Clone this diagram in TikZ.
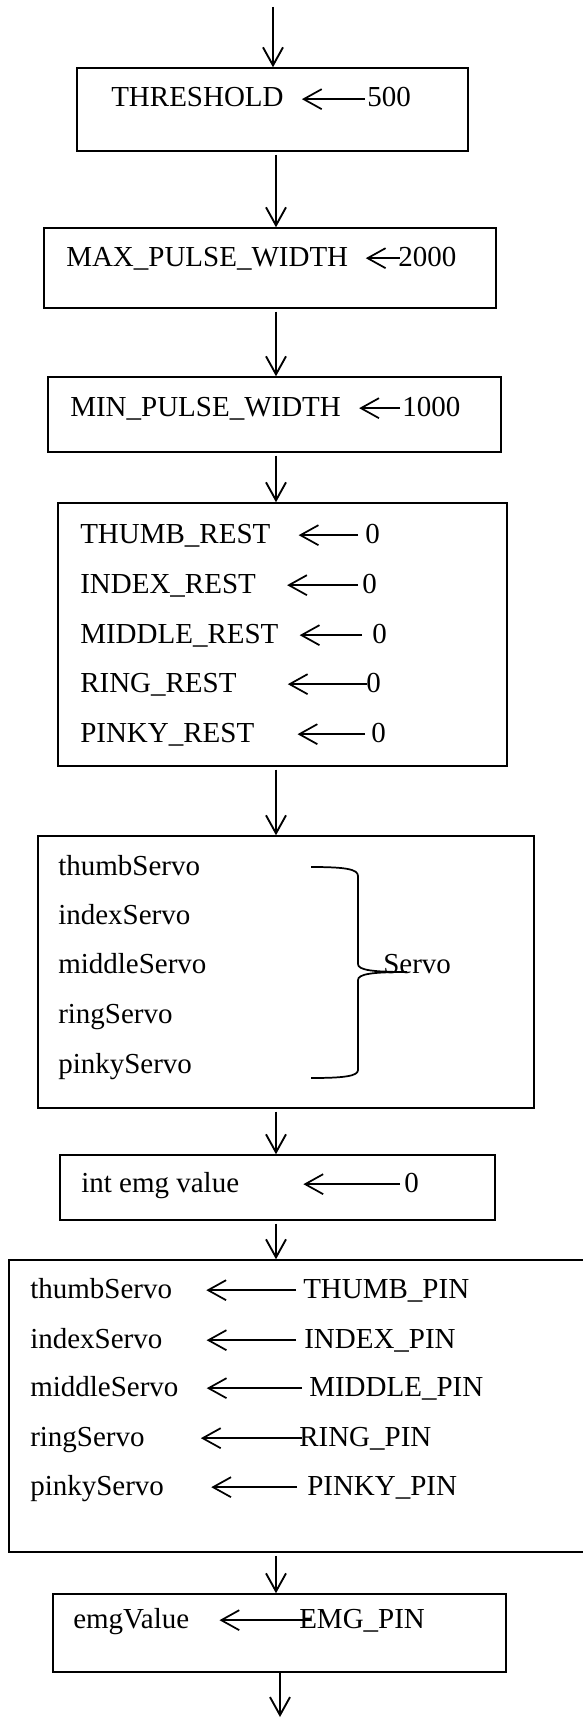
\documentclass[tikz,border=0pt]{standalone}
\usepackage{fontspec}
\setmainfont{Liberation Serif}
\usepackage{tikz}
\usetikzlibrary{arrows.meta,positioning}
\tikzstyle{flow} = [line width=1.4pt, -{Straight Barb[length=13.5pt,width=15pt]}]
\tikzstyle{assign} = [line width=1.3pt, -{Straight Barb[length=13.5pt,width=15pt]}]
\tikzstyle{stepbox} = [rectangle, draw, line width=1.1pt, inner sep=0pt]
\tikzstyle{lbl} = [anchor=base west, inner sep=0pt, text height=13.5pt, text depth=1.75pt, font=\fontsize{21.75}{26}\selectfont]

\begin{document}
\begin{tikzpicture}[x=0.75pt, y=-0.75pt]
\useasboundingbox (0,0) rectangle (582,1727);

% Boxes
\node[stepbox, minimum width=293.25pt, minimum height=62.25pt] (b1) at (272.5,109.5) {};
\node[stepbox, minimum width=339pt, minimum height=60pt] (b2) at (270,268) {};
\node[stepbox, minimum width=339.75pt, minimum height=56.25pt] (b3) at (274.5,414.5) {};
\node[stepbox, minimum width=336.75pt, minimum height=197.25pt] (b4) at (282.5,634.5) {};
\node[stepbox, minimum width=372pt, minimum height=204pt] (b5) at (286,972) {};
\node[stepbox, minimum width=326.25pt, minimum height=48.75pt] (b6) at (277.5,1187.5) {};
\node[stepbox, minimum width=443.25pt, minimum height=219pt] (b7) at (304.5,1406) {};
\node[stepbox, minimum width=339.75pt, minimum height=58.5pt] (b8) at (279.5,1633) {};

% Constants
\node[lbl] (thr) at (111,107) {THRESHOLD};
\node[lbl] (thrv) at (367,107) {500};
\node[lbl] (maxpw) at (66,266) {MAX\_PULSE\_WIDTH};
\node[lbl] (maxpwv) at (398,266) {2000};
\node[lbl] (minpw) at (70,416) {MIN\_PULSE\_WIDTH};
\node[lbl] (minpwv) at (402,416) {1000};
\draw[assign, shorten <=1.5pt, shorten >=13.5pt] (thrv) -- (thr);
\draw[assign, shorten <=-1.5pt, shorten >=13pt] (maxpwv) -- (maxpw);
\draw[assign, shorten <=1.5pt, shorten >=13.5pt] (minpwv) -- (minpw);

% Rest positions
\foreach \i/\f/\yb/\xv/\ga/\gb in {1/THUMB/543/365/7/28, 2/INDEX/593/362/4/31, 3/MIDDLE/643/372/10/21, 4/RING/692/366/-1/51, 5/PINKY/742/371/6/43} {
  \node[lbl] (rest\i) at (80,\yb) {\f\_REST};
  \node[lbl] (restv\i) at (\xv,\yb) {0};
  \draw[assign, shorten <=\ga*0.75pt, shorten >=\gb*0.75pt] (restv\i) -- (rest\i);
}

% Servo objects
\foreach \i/\f/\yb in {1/thumb/875, 2/index/924, 3/middle/973, 4/ring/1023, 5/pinky/1073}
  \node[lbl] (obj\i) at (58,\yb) {\f Servo};
\node[lbl] (servo) at (383,973) {Servo};
\draw[line width=1.3pt] (311,867) .. controls (345,867) and (358,869) .. (358,876)
  -- (358,964) .. controls (358,970) and (372,972) .. (407,972)
  .. controls (372,972) and (358,974) .. (358,980)
  -- (358,1070) .. controls (358,1076) and (345,1078) .. (311,1078);

% EMG variable
\node[lbl] (emgint) at (81,1192) {int emg value};
\node[lbl] (emgintv) at (404,1192) {0};
\draw[assign, shorten <=3pt, shorten >=48pt] (emgintv) -- (emgint);

% Attach pins
\foreach \i/\f/\F/\yb/\xv/\ga/\gb in {1/thumb/THUMB/1298/303/7/34, 2/index/INDEX/1348/304/8/44, 3/middle/MIDDLE/1396/309/7/28, 4/ring/RING/1446/299/-3/56, 5/pinky/PINKY/1495/307/10/47} {
  \node[lbl] (srv\i) at (30,\yb) {\f Servo};
  \node[lbl] (pin\i) at (\xv,\yb) {\F\_PIN};
  \draw[assign, shorten <=\ga*0.75pt, shorten >=\gb*0.75pt] (pin\i) -- (srv\i);
}
\node[lbl] (emg) at (73,1628) {emgValue};
\node[lbl] (emgpin) at (299,1628) {EMG\_PIN};
\draw[assign, shorten <=-9pt, shorten >=22.5pt] (emgpin) -- (emg);

% Arrows
\coordinate (col) at (276,0);
\coordinate (in) at (273,7);
\coordinate (out) at (280,1717);
\draw[flow] (in) -- (b1.north -| in);
\foreach \a/\b in {b1/b2, b2/b3, b3/b4, b4/b5, b5/b6, b6/b7, b7/b8}
  \draw[flow, shorten <=2.25pt] (\a.south -| col) -- (\b.north -| col);
\draw[flow] (b8.south -| out) -- (out);
\end{tikzpicture}
\end{document}
